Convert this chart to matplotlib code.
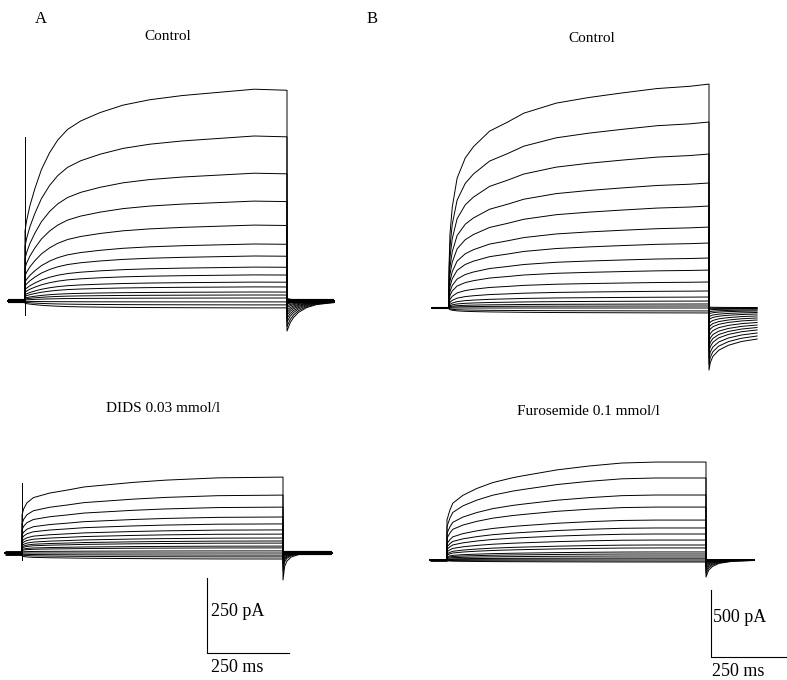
import matplotlib
matplotlib.use('Agg')
import matplotlib.pyplot as plt

W, H = 787, 680

# voltage protocol (ms)
t_hold = 52
t_pulse = 800

# ---- A, Control: steady-state current at end of pulse (pA), one per step
ctrlA_amp = [706, 550, 426, 333, 253, 190, 150, 113, 87, 63, 47, 30, 20, 10, -3, -13, -23]
ctrlA_tail = [-100, -85, -70, -58, -47, -38, -30, -22, -16, -10, -6, -3, 0, 3, 5, 7, 8]
ctrlA_t = [0, 5, 15, 30, 50, 75, 100, 130, 170, 230, 300, 380, 480, 590, 700, 800]
ctrlA_f = [0.33, 0.38, 0.45, 0.53, 0.62, 0.70, 0.76, 0.81, 0.85, 0.89, 0.925, 0.95, 0.97, 0.985, 1.0, 0.995]
ctrlA_tail_t = [0, 10, 20, 35, 60, 90, 145]
ctrlA_tail_f = [1.0, 0.72, 0.55, 0.38, 0.22, 0.12, 0.05]
ctrlA_spike = [-47, 546]

# ---- A, DIDS 0.03 mmol/l
didsA_amp = [253, 193, 153, 120, 97, 77, 63, 50, 40, 33, 23, 17, 7, 0, -7, -13, -20]
didsA_tail = [-90, -60, -45, -35, -25, -18, -12, -8, -5, -3, -1, 0, 1, 2, 3, 4, 5]
didsA_t = [0, 5, 15, 35, 85, 140, 190, 240, 340, 440, 600, 800]
didsA_f = [0.5, 0.58, 0.66, 0.73, 0.79, 0.83, 0.87, 0.89, 0.93, 0.96, 0.99, 1.0]
didsA_tail_t = [0, 5, 12, 25, 50, 150]
didsA_tail_f = [1.0, 0.5, 0.3, 0.15, 0.05, 0.0]
didsA_spike = [-23, 233]

# ---- B, Control
ctrlB_amp = [1671, 1388, 1149, 933, 761, 604, 485, 373, 283, 194, 127, 82, 52, 30, 15, 0, -22, -37]
ctrlB_tail = [-463, -418, -373, -328, -291, -254, -216, -179, -149, -119, -90, -67, -45, -30, -15, -7, 0, 7]
ctrlB_t = [0, 3, 10, 25, 50, 75, 125, 180, 230, 330, 430, 530, 640, 740, 800]
ctrlB_f = [0.18, 0.33, 0.45, 0.58, 0.67, 0.72, 0.79, 0.83, 0.87, 0.915, 0.94, 0.96, 0.98, 0.99, 1.0]
ctrlB_tail_t = [0, 4, 12, 30, 60, 100, 148]
ctrlB_tail_f = [1.0, 0.88, 0.78, 0.68, 0.6, 0.54, 0.5]

# ---- B, Furosemide 0.1 mmol/l
furoB_amp = [731, 612, 485, 395, 298, 239, 194, 149, 112, 90, 60, 45, 30, 15, 7, -7, -15]
furoB_tail = [-127, -100, -80, -62, -48, -37, -28, -20, -14, -9, -5, -3, -1, 0, 1, 2, 3]
furoB_t = [0, 9, 18, 49, 92, 141, 203, 235, 340, 440, 540, 645, 800]
furoB_f = [0.41, 0.51, 0.58, 0.66, 0.73, 0.79, 0.84, 0.86, 0.92, 0.96, 0.99, 1.0, 1.0]
furoB_tail_t = [0, 8, 20, 40, 80, 148]
furoB_tail_f = [1.0, 0.6, 0.38, 0.2, 0.08, 0.03]

# scale bars
barA = (250, 250)   # pA, ms
barB = (500, 250)

plt.rcParams['font.family'] = ['Liberation Serif', 'DejaVu Serif']
fig = plt.figure(figsize=(W / 100, H / 100), dpi=100)
fig.patch.set_facecolor('white')


def panel_axes(x0, y0, mspp, papp):
    # full-figure transparent axes; (t=0, I=0) sits at pixel (x0, y0)
    ax = fig.add_axes([0, 0, 1, 1])
    ax.set_xlim(-x0 * mspp, (W - x0) * mspp)
    ax.set_ylim((y0 - H) * papp, y0 * papp)
    ax.axis('off')
    ax.patch.set_alpha(0)
    return ax


def draw_traces(ax, amps, tails, pt, pf, tt, tf, hold_lw, spike=None):
    for a, b in zip(amps, tails):
        t = [-t_hold, 0] + pt + [t_pulse + x for x in tt]
        y = [0, 0] + [a * f for f in pf] + [b * g for g in tf]
        ax.plot(t, y, color='black', lw=0.7, solid_joinstyle='round')
    ax.plot([-t_hold, 0], [0, 0], color='black', lw=hold_lw, solid_capstyle='butt')
    if spike is not None:
        ax.plot([0, 0], spike, color='black', lw=0.7)


axA1 = panel_axes(25, 301, 800 / 262, 250 / 75)
draw_traces(axA1, ctrlA_amp, ctrlA_tail, ctrlA_t, ctrlA_f, ctrlA_tail_t, ctrlA_tail_f, 3.0, ctrlA_spike)
axA1.plot([t_pulse, t_pulse + 145], [0, 0], color='black', lw=3.0, solid_capstyle='butt')

axA2 = panel_axes(22, 553, 800 / 261, 250 / 75)
draw_traces(axA2, didsA_amp, didsA_tail, didsA_t, didsA_f, didsA_tail_t, didsA_tail_f, 3.5, didsA_spike)
axA2.plot([t_pulse, t_pulse + 150], [0, 0], color='black', lw=3.0, solid_capstyle='butt')

axB1 = panel_axes(449, 308, 800 / 260, 500 / 67)
draw_traces(axB1, ctrlB_amp, ctrlB_tail, ctrlB_t, ctrlB_f, ctrlB_tail_t, ctrlB_tail_f, 1.5)

axB2 = panel_axes(447, 560, 800 / 259, 500 / 67)
draw_traces(axB2, furoB_amp, furoB_tail, furoB_t, furoB_f, furoB_tail_t, furoB_tail_f, 2.0)

# scale bars (anchor = lower-left corner of the L)
for ax, (x0, y0, mspp, papp), (bx, by), (pa, ms) in [
        (axA2, (22, 553, 800 / 261, 250 / 75), (207, 653), barA),
        (axB2, (447, 560, 800 / 259, 500 / 67), (711, 657), barB)]:
    t0 = (bx - x0) * mspp
    i0 = (y0 - by) * papp
    ax.plot([t0, t0, t0 + ms], [i0 + pa, i0, i0], color='black', lw=0.8, clip_on=False)


def ftext(px, py, s, size, ha='center'):
    fig.text(px / W, 1 - py / H, s, fontsize=size, ha=ha, va='center')


ftext(41, 19, 'A', 12)
ftext(372, 19, 'B', 12)
ftext(168, 37, 'Control', 11)
ftext(592, 39, 'Control', 11)
ftext(163, 408, 'DIDS 0.03 mmol/l', 11)
ftext(588, 412, 'Furosemide 0.1 mmol/l', 11)
ftext(211, 612, '250 pA', 13, ha='left')
ftext(211, 668, '250 ms', 13, ha='left')
ftext(713, 618, '500 pA', 13, ha='left')
ftext(712, 671, '250 ms', 13, ha='left')

fig.savefig('out.png', dpi=100, facecolor='white')
